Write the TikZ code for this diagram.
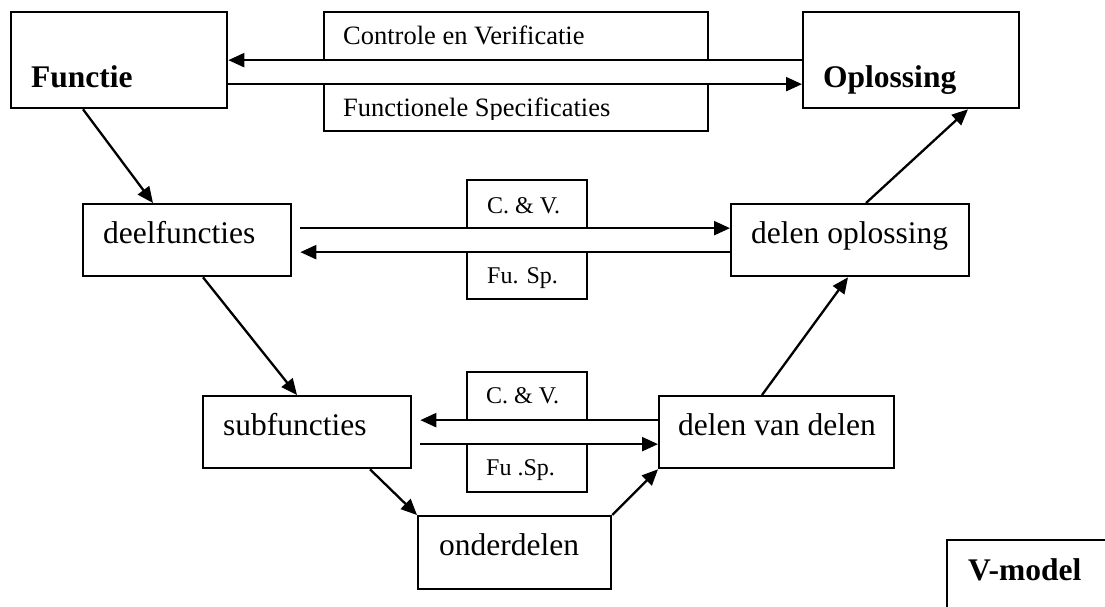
\documentclass[tikz,border=0pt]{standalone}
\usepackage{fontspec}
\setmainfont{Liberation Serif}
\usetikzlibrary{arrows.meta}
\begin{document}
\begin{tikzpicture}[x=1pt,y=-1pt,
  frame/.style={draw, line width=2.3pt, inner sep=0pt, anchor=north west},
  link/.style={line width=2.3pt, -{Triangle[length=16pt,width=14pt]}},
  big/.style={anchor=base west, inner sep=0pt, font=\fontsize{31.5}{36}\selectfont},
  bigb/.style={anchor=base west, inner sep=0pt, font=\fontsize{31.5}{36}\selectfont\bfseries},
  mid/.style={anchor=base west, inner sep=0pt, font=\fontsize{26.5}{30}\selectfont},
  small/.style={anchor=base west, inner sep=0pt, font=\fontsize{24}{28}\selectfont}]
\useasboundingbox (0,0) rectangle (1105,607);
\clip (0,0) rectangle (1105,607);

% top level
\node[frame, minimum width=216pt, minimum height=96pt] (f) at (10,11) {};
\node[frame, minimum width=216pt, minimum height=96pt] (o) at (802,11) {};
\node[frame, minimum width=384pt, minimum height=48pt] (cv) at (323,11) {};
\node[frame, minimum width=384pt, minimum height=47pt] (fs) at (323,83) {};
\node[bigb] (tf) at (31,88) {Functie};
\node[bigb] (to) at (823,88) {Oplossing};
\node[mid] (tcv) at (343,45) {Controle en Verificatie};
\begin{scope}
  \clip (323,83) rectangle (707,120);
  \node[mid] (tfs) at (343,117) {Functionele Specificaties};
\end{scope}

% second level
\node[frame, minimum width=208pt, minimum height=72pt] (d) at (82,203) {};
\node[frame, minimum width=238pt, minimum height=72pt] (dl) at (730,203) {};
\node[frame, minimum width=120pt, minimum height=48pt] (cv2) at (466,179) {};
\node[frame, minimum width=120pt, minimum height=47pt] (fs2) at (466,251) {};
\node[big] (td) at (103,243) {deelfuncties};
\node[big] (tdl) at (751,243) {delen oplossing};
\node[small] (tcv2) at (487,213) {C. \& V.};
\node[small] (tfs2) at (487,283) {Fu. Sp.};

% third level
\node[frame, minimum width=208pt, minimum height=72pt] (s) at (202,395) {};
\node[frame, minimum width=235pt, minimum height=72pt] (dvd) at (658,395) {};
\node[frame, minimum width=120pt, minimum height=48pt] (cv3) at (466,371) {};
\node[frame, minimum width=120pt, minimum height=48pt] (fs3) at (466,443) {};
\node[big] (ts) at (223,435) {subfuncties};
\node[big] (tdvd) at (678,435) {delen van delen};
\node[small] (tcv3) at (486,403) {C. \& V.};
\node[small] (tfs3) at (486,475) {Fu .Sp.};

% bottom
\node[frame, minimum width=193pt, minimum height=73pt] (ond) at (417,515) {};
\node[big] (tond) at (439,555) {onderdelen};

% legend
\node[frame, minimum width=200pt, minimum height=100pt] (vm) at (946,539) {};
\node[bigb] (tvm) at (968,580) {V-model};

% horizontal links
\draw[link] (o.west) -- (f.east);
\draw[link] ([yshift=-24pt]f.east) -- ([yshift=-24pt]o.west);
\draw[link] ([shift={(8pt,12pt)}]d.east) -- ([yshift=12pt]dl.west);
\draw[link] ([yshift=-12pt]dl.west) -- ([shift={(8pt,-12pt)}]d.east);
\draw[link] ([yshift=12pt]dvd.west) -- ([shift={(8pt,12pt)}]s.east);
\draw[link] ([shift={(8pt,-12pt)}]s.east) -- ([yshift=-12pt]dvd.west);

% descending branch
\draw[link] ([xshift=73pt]f.south west) -- ([xshift=71pt]d.north west);
\draw[link] ([xshift=121pt]d.south west) -- ([xshift=95pt]s.north west);
\draw[link] ([xshift=168pt]s.south west) -- (ond.north west);

% ascending branch
\draw[link] (ond.north east) -- (dvd.south west);
\draw[link] ([xshift=104pt]dvd.north west) -- ([xshift=118pt]dl.south west);
\draw[link] ([xshift=136pt]dl.north west) -- ([xshift=166pt]o.south west);
\end{tikzpicture}
\end{document}
